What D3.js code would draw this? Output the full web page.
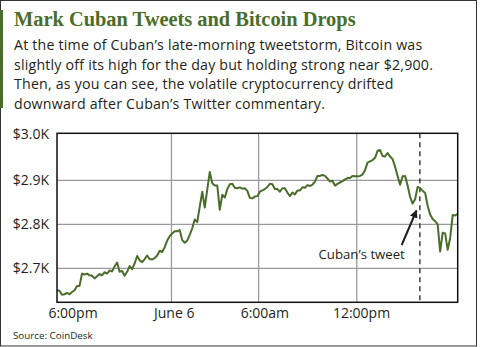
<!DOCTYPE html>
<html><head><meta charset="utf-8">
<script src="https://cdn.jsdelivr.net/npm/d3@7"></script>
<style>
html,body{margin:0;padding:0;background:#fff;}
svg{display:block;}
</style></head>
<body>
<svg id="c" width="480" height="347"></svg>
<script>
// ---- data ----
const prices = [
2650,2649,2640,2641,2644,2641,2646,2650,2660,2660,
2688,2686,2688,2684,2683,2677,2682,2687,2684,2691,
2688,2695,2693,2704,2713,2692,2694,2683,2692,2705,
2698,2711,2728,2718,2714,2721,2729,2721,2720,2723,
2729,2740,2737,2748,2763,2773,2779,2784,2784,2787,
2764,2758,2763,2776,2791,2811,2805,2840,2874,2838,
2879,2919,2893,2888,2888,2833,2867,2861,2880,2891,
2892,2883,2882,2884,2881,2882,2876,2860,2859,2863,
2864,2874,2877,2880,2885,2892,2891,2880,2880,2874,
2882,2882,2872,2864,2872,2868,2877,2877,2884,2883,
2889,2887,2890,2897,2910,2910,2912,2910,2904,2897,
2899,2888,2892,2895,2898,2902,2905,2905,2910,2909,
2909,2910,2913,2923,2940,2943,2946,2951,2967,2969,
2955,2954,2962,2954,2948,2931,2910,2890,2909,2910,
2888,2862,2847,2857,2885,2882,2876,2871,2842,2822,
2812,2807,2800,2738,2781,2779,2742,2769,2821,2820,
2824
];
const yTicks = [2700, 2800, 2900, 3000];
const xGrid = [45.7, 80.5, 119.7];            // sample index of June 6, 6:00am, 12:00pm
const xLabels = ["6:00pm", "June 6", "6:00am", "12:00pm"];
const xLabelAt = [6.4, 46.8, 83, 121.6];      // sample index where each label is centred
const tweetAt = 144.9;                         // sample index of Cuban's tweet
const title = "Mark Cuban Tweets and Bitcoin Drops";
const body = [
  "At the time of Cuban\u2019s late-morning tweetstorm, Bitcoin was",
  "slightly off its high for the day but holding strong near $2,900.",
  "Then, as you can see, the volatile cryptocurrency drifted",
  "downward after Cuban\u2019s Twitter commentary."
];
const source = "Source: CoinDesk";
const annot = "Cuban\u2019s tweet";

// ---- layout ----
const svg = d3.select("#c");
const L = 57, R = 457.7, T = 133.3, B = 302.3;
const green = "#4b6d2b";
const ink = "#231f20";

const x = d3.scaleLinear().domain([0, prices.length - 1]).range([L, R]);
const y = d3.scaleLinear().domain([2622.7, 3006.8]).range([B, T]);

// outer border
svg.append("rect").attr("x", 0.5).attr("y", 0.5).attr("width", 476).attr("height", 345.5)
  .attr("fill", "#fff").attr("stroke", "#333").attr("stroke-width", 1);
// accent bar
svg.append("rect").attr("x", 0).attr("y", 10).attr("width", 3).attr("height", 98).attr("fill", green);

// title
svg.append("text").attr("x", 14).attr("y", 25.5)
  .attr("font-family", "Liberation Serif, serif").attr("font-weight", "bold")
  .attr("font-size", 20.4).attr("fill", green).text(title);

// body
svg.append("g").selectAll("text").data(body).join("text")
  .attr("x", 14).attr("y", (d, i) => 50 + i * 19.5)
  .attr("font-family", "Open Sans, sans-serif").attr("font-size", 14.2)
  .attr("letter-spacing", 0.2)
  .attr("fill", ink).text(d => d);

// grid
const g = svg.append("g");
g.selectAll("line.h").data(yTicks.filter(v => v < 3000)).join("line")
  .attr("x1", L).attr("x2", R).attr("y1", d => y(d)).attr("y2", d => y(d))
  .attr("stroke", "#9a9a9a").attr("stroke-width", 1.3);
g.selectAll("line.v").data(xGrid).join("line")
  .attr("y1", T).attr("y2", B).attr("x1", d => x(d)).attr("x2", d => x(d))
  .attr("stroke", "#9a9a9a").attr("stroke-width", 1.3);

// y labels
svg.append("g").selectAll("text").data(yTicks).join("text")
  .attr("x", 49).attr("y", d => d === 3000 ? T + 1 : y(d))
  .attr("dy", "0.36em").attr("text-anchor", "end")
  .attr("font-family", "Open Sans, sans-serif").attr("font-size", 14).attr("fill", ink)
  .text(d => "$" + (d / 1000).toFixed(1) + "K");

// x labels
svg.append("g").selectAll("text").data(xLabels).join("text")
  .attr("x", (d, i) => x(xLabelAt[i])).attr("y", 317.5).attr("text-anchor", "middle")
  .attr("font-family", "Open Sans, sans-serif").attr("font-size", 14).attr("fill", ink)
  .text(d => d);

// tweet dashed line
svg.append("line").attr("x1", x(tweetAt)).attr("x2", x(tweetAt)).attr("y1", T).attr("y2", B)
  .attr("stroke", ink).attr("stroke-width", 1.3).attr("stroke-dasharray", "5,4");

// price line
svg.append("path").datum(prices)
  .attr("d", d3.line().x((d, i) => x(i)).y(d => y(d)))
  .attr("fill", "none").attr("stroke", green).attr("stroke-width", 2)
  .attr("stroke-linejoin", "round");

// frame
svg.append("rect").attr("x", L).attr("y", T).attr("width", R - L).attr("height", B - T)
  .attr("fill", "none").attr("stroke", "#111").attr("stroke-width", 1.5);

// annotation
svg.append("text").attr("x", 361.7).attr("y", 259).attr("text-anchor", "middle")
  .attr("font-family", "Open Sans, sans-serif").attr("font-size", 13.2).attr("fill", ink)
  .text(annot);
const defs = svg.append("defs");
defs.append("marker").attr("id", "ah").attr("viewBox", "0 0 10 10").attr("refX", 9).attr("refY", 5)
  .attr("markerWidth", 4).attr("markerHeight", 4).attr("orient", "auto")
  .append("path").attr("d", "M0,0L10,5L0,10z").attr("fill", ink);
svg.append("line").attr("x1", 401.7).attr("y1", 245).attr("x2", 416.5).attr("y2", 210.5)
  .attr("stroke", ink).attr("stroke-width", 2).attr("marker-end", "url(#ah)");

// source
svg.append("text").attr("x", 13).attr("y", 339).attr("font-family", "Open Sans, sans-serif")
  .attr("font-size", 9.8).attr("fill", ink).text(source);
</script>
</body></html>
